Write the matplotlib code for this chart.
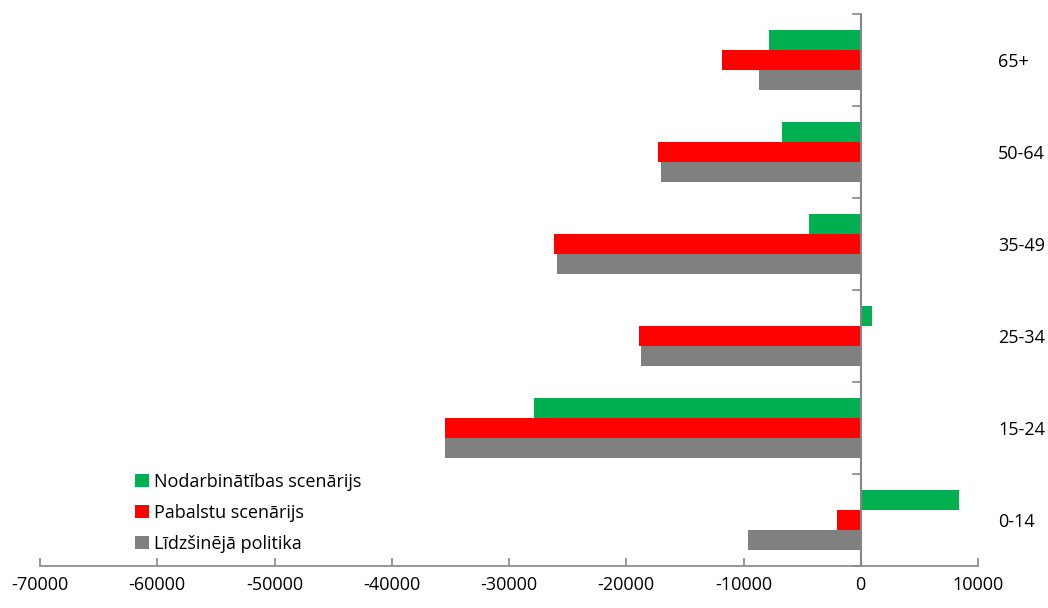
import matplotlib
matplotlib.use("Agg")
import matplotlib.pyplot as plt
import numpy as np

categories = ["0-14", "15-24", "25-34", "35-49", "50-64", "65+"]
series_names = ["Nodarbinātības scenārijs", "Pabalstu scenārijs", "Līdzšinējā politika"]
nodarbinatibas = [8400, -27900, 1000, -4400, -6700, -7800]
pabalstu = [-2000, -35500, -18900, -26200, -17300, -11800]
lidzsineja = [-9600, -35500, -18700, -25900, -17000, -8700]
colors = ["#00B050", "#FF0000", "#808080"]
xticks = list(range(-70000, 10001, 10000))

plt.rcParams['font.family'] = ['Open Sans', 'DejaVu Sans']
fs = 13

fig = plt.figure(figsize=(10.48, 6.08), dpi=100)
ax = fig.add_axes([40/1048, 42/608, (978-40)/1048, (566-14)/608])

y = np.arange(len(categories))
h = 0.217
ax.barh(y + h, nodarbinatibas, height=h, color=colors[0], label=series_names[0], zorder=2)
ax.barh(y, pabalstu, height=h, color=colors[1], label=series_names[1], zorder=2)
ax.barh(y - h, lidzsineja, height=h, color=colors[2], label=series_names[2], zorder=2)

ax.set_xlim(-70000, 10000)
ax.set_ylim(-0.5, len(categories) - 0.5)
ax.set_xticks(xticks)
ax.set_xticklabels([str(v) for v in xticks], fontsize=fs)

for s in ["top", "right", "left"]:
    ax.spines[s].set_visible(False)
ax.spines["bottom"].set_color("#868686")
ax.spines["bottom"].set_linewidth(1.2)
ax.tick_params(axis="x", color="#868686", length=6, width=1.2, direction="in", pad=7)

# vertical axis at x=0 with ticks between categories
ax.axvline(0, color="#868686", lw=1.5, zorder=3)
ax.set_yticks([])
for b in np.arange(-0.5, len(categories), 1.0):
    ax.plot([-700, 0], [b, b], color="#868686", lw=1.2, zorder=3, clip_on=False)

for i, c in enumerate(categories):
    fig.text(998/1048, 1 - (14 + 92*(len(categories)-1-i) + 48)/608, c,
             fontsize=fs, va="center", ha="left")

handles, labels = ax.get_legend_handles_labels()
ax.legend(handles, labels, loc="lower left", bbox_to_anchor=(0.084, -0.005), frameon=False,
          fontsize=fs, handlelength=0.75, handleheight=0.75, handletextpad=0.3,
          labelspacing=0.72)

fig.savefig("out.png", dpi=100)
